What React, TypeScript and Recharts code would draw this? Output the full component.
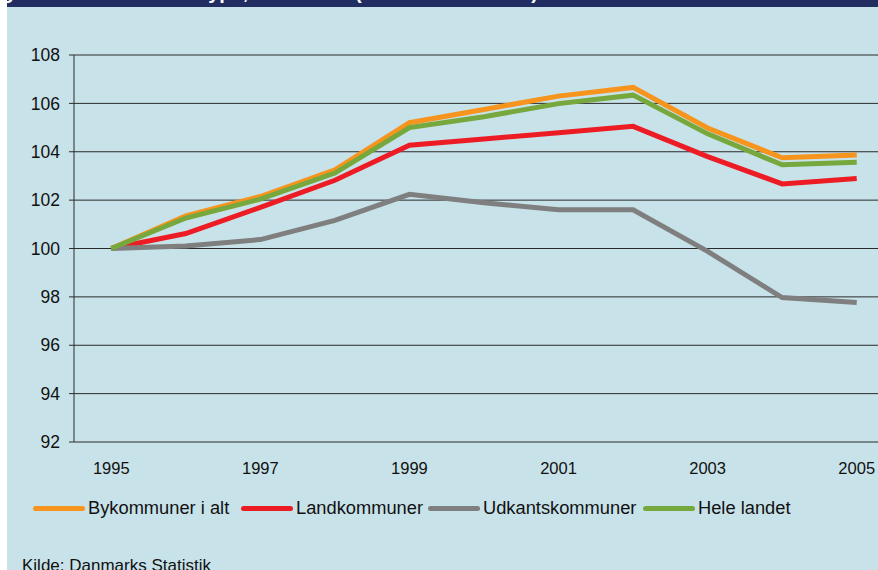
import { CartesianGrid, Line, LineChart, XAxis, YAxis } from "recharts";

const years = [1995, 1996, 1997, 1998, 1999, 2000, 2001, 2002, 2003, 2004, 2005];
const bykommuner = [100, 101.35, 102.15, 103.25, 105.2, 105.75, 106.3, 106.66, 104.98, 103.75, 103.87];
const landkommuner = [100, 100.62, 101.7, 102.82, 104.27, 104.53, 104.79, 105.05, 103.8, 102.67, 102.89];
const udkantskommuner = [100, 100.1, 100.37, 101.16, 102.24, 101.89, 101.6, 101.6, 99.88, 97.97, 97.77];
const heleLandet = [100, 101.26, 102.04, 103.12, 105.0, 105.45, 105.99, 106.34, 104.74, 103.46, 103.57];

const yTicks = [92, 94, 96, 98, 100, 102, 104, 106, 108];
const labelYears = [1995, 1997, 1999, 2001, 2003, 2005];

const series = [
  { key: "byk", name: "Bykommuner i alt", color: "#f7941d", slot: 208 },
  { key: "land", name: "Landkommuner", color: "#ed1c24", slot: 187 },
  { key: "udkant", name: "Udkantskommuner", color: "#7f7f7f", slot: 215 },
  { key: "hele", name: "Hele landet", color: "#77a83e", slot: 160 },
];

const data = years.map((year, i) => ({
  year,
  byk: bykommuner[i],
  land: landkommuner[i],
  udkant: udkantskommuner[i],
  hele: heleLandet[i],
}));

// tick marks sit between the years, like a category axis
const boundaryTicks = [...years.map((y) => y - 0.5), years[years.length - 1] + 0.5];
const xDomain = [years[0] - 0.5, years[years.length - 1] + 0.5];

const font = "'Liberation Sans', Arial, sans-serif";
const axisColor = "#2a2a2a";

const NoLabel = () => <g />;

function ChartLegend() {
  return (
    <div
      style={{
        position: "absolute",
        left: 33,
        top: 497,
        display: "flex",
        alignItems: "center",
        fontFamily: font,
        fontSize: 18.3,
        color: "#111",
        whiteSpace: "nowrap",
      }}
    >
      {series.map((s) => (
        <div key={s.key} style={{ display: "flex", alignItems: "center", width: s.slot }}>
          <div style={{ width: 52, height: 5, borderRadius: 3, background: s.color, marginRight: 3, flexShrink: 0 }} />
          <span>{s.name}</span>
        </div>
      ))}
    </div>
  );
}

export default function App() {
  return (
    <div
      style={{
        position: "absolute",
        left: 0,
        top: 0,
        width: 878,
        height: 570,
        overflow: "hidden",
        background: "#ffffff",
        fontFamily: font,
      }}
    >
      <div style={{ position: "absolute", left: 7, top: 7, width: 871, height: 563, background: "#c8e2e9" }} />
      <div style={{ position: "absolute", left: 7, top: 0, width: 871, height: 7, background: "#222e62", overflow: "hidden" }}>
        <div
          style={{
            position: "absolute",
            left: -90,
            top: -19,
            color: "#fff",
            fontWeight: 700,
            fontSize: 20,
            whiteSpace: "nowrap",
          }}
        >
          Beskæftigelse efter kommunetype, 1995-2005 (indeks 1995 = 100)
        </div>
      </div>

      <div style={{ position: "absolute", left: 0, top: 0 }}>
        <LineChart width={900} height={570} data={data} margin={{ top: 55, right: 6, left: 0, bottom: 88 }}>
          <CartesianGrid xAxisId="labels" vertical={false} stroke={axisColor} strokeWidth={1} />
          <XAxis
            xAxisId="marks"
            type="number"
            dataKey="year"
            domain={xDomain}
            ticks={boundaryTicks}
            allowDataOverflow
            interval={0}
            tick={NoLabel}
            tickSize={5}
            height={0}
            axisLine={{ stroke: axisColor }}
            tickLine={{ stroke: axisColor }}
          />
          <XAxis
            xAxisId="labels"
            type="number"
            dataKey="year"
            domain={xDomain}
            ticks={labelYears}
            allowDataOverflow
            interval={0}
            height={40}
            tickSize={0}
            tickMargin={20}
            axisLine={false}
            tickLine={false}
            tick={{ fill: "#111", fontSize: 16.5, fontFamily: font }}
          />
          <YAxis
            type="number"
            domain={[92, 108]}
            ticks={yTicks}
            interval={0}
            width={74}
            tickSize={5}
            tickMargin={9}
            axisLine={{ stroke: axisColor }}
            tickLine={{ stroke: axisColor }}
            tick={{ fill: "#111", fontSize: 17.5, fontFamily: font }}
          />
          {series.map((s) => (
            <Line
              key={s.key}
              xAxisId="labels"
              type="linear"
              dataKey={s.key}
              name={s.name}
              stroke={s.color}
              strokeWidth={5}
              dot={false}
              activeDot={false}
              isAnimationActive={false}
            />
          ))}
        </LineChart>
      </div>

      <ChartLegend />

      <div style={{ position: "absolute", left: 22, top: 556, fontSize: 17, color: "#111", whiteSpace: "nowrap" }}>
        Kilde: Danmarks Statistik
      </div>
    </div>
  );
}
